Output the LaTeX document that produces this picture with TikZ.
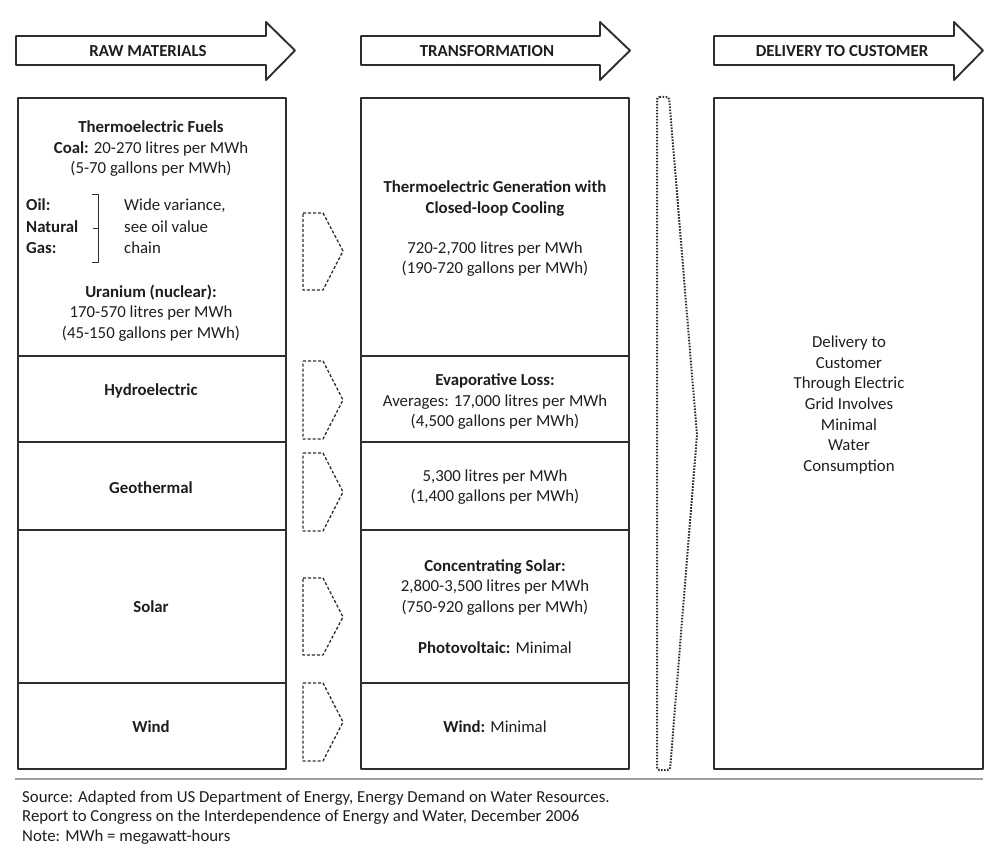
\documentclass[tikz,border=0pt]{standalone}
\usepackage{fontspec}
\setmainfont{Carlito}
\definecolor{linec}{HTML}{2E2E2E}
\definecolor{textc}{HTML}{1E1E1E}
\begin{document}
\begin{tikzpicture}[x=1pt,y=-1pt,line join=round,
  box/.style={draw=linec,line width=1.9pt},
  hdr/.style={draw=linec,line width=1.9pt,fill=white},
  hdrtxt/.style={font=\fontsize{16.8}{18}\selectfont\bfseries,text=textc,inner sep=0pt},
  txt/.style={font=\fontsize{16.8}{20.5}\selectfont,align=center,text=textc,inner sep=0pt},
  rtxt/.style={font=\fontsize{16.8}{20.7}\selectfont,align=center,text=textc,inner sep=0pt},
  ltxt/.style={font=\fontsize{16.8}{21.5}\selectfont,align=left,text=textc,inner sep=0pt},
  foot/.style={font=\fontsize{16.8}{19.6}\selectfont,align=left,text=textc,inner sep=0pt},
  smallarrow/.style={draw=linec,line width=1.3pt,dash pattern=on 3pt off 2pt},
  bigarrow/.style={draw=linec,line width=2pt,dash pattern=on 1.6pt off 1.4pt,rounded corners=2.5pt}]
\useasboundingbox (0,0) rectangle (996,861);
% header arrows
\draw[hdr] (16,36) -- (266,36) -- (266,22) -- (295,50.5) -- (266,80) -- (266,65) -- (16,65) -- cycle;
\draw[hdr] (361,36) -- (600,36) -- (600,22) -- (630,50.5) -- (600,80) -- (600,65) -- (361,65) -- cycle;
\draw[hdr] (714,36) -- (954,36) -- (954,22) -- (983,50.5) -- (954,80) -- (954,65) -- (714,65) -- cycle;
\node[hdrtxt] (h1) at (148,51) {RAW MATERIALS};
\node[hdrtxt] (h2) at (487,51) {TRANSFORMATION};
\node[hdrtxt] (h3) at (842,51) {DELIVERY TO CUSTOMER};
% columns
\draw[box] (18,98) rectangle (286,769);
\draw[box] (18,356) -- (286,356);
\draw[box] (18,442) -- (286,442);
\draw[box] (18,530) -- (286,530);
\draw[box] (18,683) -- (286,683);
\draw[box] (361,98) rectangle (629,769);
\draw[box] (361,356) -- (629,356);
\draw[box] (361,442) -- (629,442);
\draw[box] (361,530) -- (629,530);
\draw[box] (361,683) -- (629,683);
\draw[box] (714,98) rectangle (983,769);
% small dashed arrows
\draw[smallarrow] (303,213) -- (323,213) -- (343,251) -- (323,290) -- (303,290) -- cycle;
\draw[smallarrow] (303,361) -- (323,361) -- (343,400) -- (323,439) -- (303,439) -- cycle;
\draw[smallarrow] (303,453) -- (323,453) -- (343,492) -- (323,531) -- (303,531) -- cycle;
\draw[smallarrow] (303,578) -- (323,578) -- (343,617) -- (323,655) -- (303,655) -- cycle;
\draw[smallarrow] (303,683) -- (323,683) -- (343,722) -- (323,761) -- (303,761) -- cycle;
% big dotted arrow
\draw[bigarrow] (657,97) -- (669,97) -- (697,435) -- (670,770) -- (657,770) -- cycle;
% left column texts
\node[txt] (tf) at (151,149) {\textbf{Thermoelectric Fuels}\\\textbf{Coal:} 20-270 litres per MWh\\(5-70 gallons per MWh)};
\node[ltxt,anchor=west] (og) at (26,226.5) {\textbf{Oil:}\\\textbf{Natural}\\\textbf{Gas:}};
\coordinate (bt) at (92,195);
\draw[draw=linec,line width=1pt] (bt) -- ++(6,0) -- ++(0,67) -- ++(-6,0);
\draw[draw=linec,line width=1pt] (98,228.5) -- ++(-5,0);
\node[ltxt,anchor=west] (wv) at (124,226.5) {Wide variance,\\see oil value\\chain};
\node[txt] (ur) at (151,313) {\textbf{Uranium (nuclear):}\\170-570 litres per MWh\\(45-150 gallons per MWh)};
\node[txt] (hy) at (151,391) {\textbf{Hydroelectric}};
\node[txt] (ge) at (151,488) {\textbf{Geothermal}};
\node[txt] (so) at (151,607) {\textbf{Solar}};
\node[txt] (wi) at (151,727) {\textbf{Wind}};
% middle column texts
\node[txt] (m1a) at (495,198.5) {\textbf{Thermoelectric Generation with}\\\textbf{Closed-loop Cooling}};
\node[txt] (m1b) at (495,259) {720-2,700 litres per MWh\\(190-720 gallons per MWh)};
\node[txt] (m2) at (495,402) {\textbf{Evaporative Loss:}\\Averages: 17,000 litres per MWh\\(4,500 gallons per MWh)};
\node[txt] (m3) at (495,487) {5,300 litres per MWh\\(1,400 gallons per MWh)};
\node[txt] (m4a) at (495,587.5) {\textbf{Concentrating Solar:}\\2,800-3,500 litres per MWh\\(750-920 gallons per MWh)};
\node[txt] (m4b) at (495,648) {\textbf{Photovoltaic:} Minimal};
\node[txt] (m5) at (495,727) {\textbf{Wind:} Minimal};
% right column text
\node[rtxt] (dl) at (849,405) {Delivery to\\Customer\\Through Electric\\Grid Involves\\Minimal\\Water\\Consumption};
% rule and footer
\draw[draw=gray!75,line width=2.5pt] (15,779) -- (983,779);
\node[foot,anchor=west] (src) at (22,817.5) {Source: Adapted from US Department of Energy, Energy Demand on Water Resources.\\Report to Congress on the Interdependence of Energy and Water, December 2006\\Note: MWh = megawatt-hours};
\end{tikzpicture}
\end{document}
